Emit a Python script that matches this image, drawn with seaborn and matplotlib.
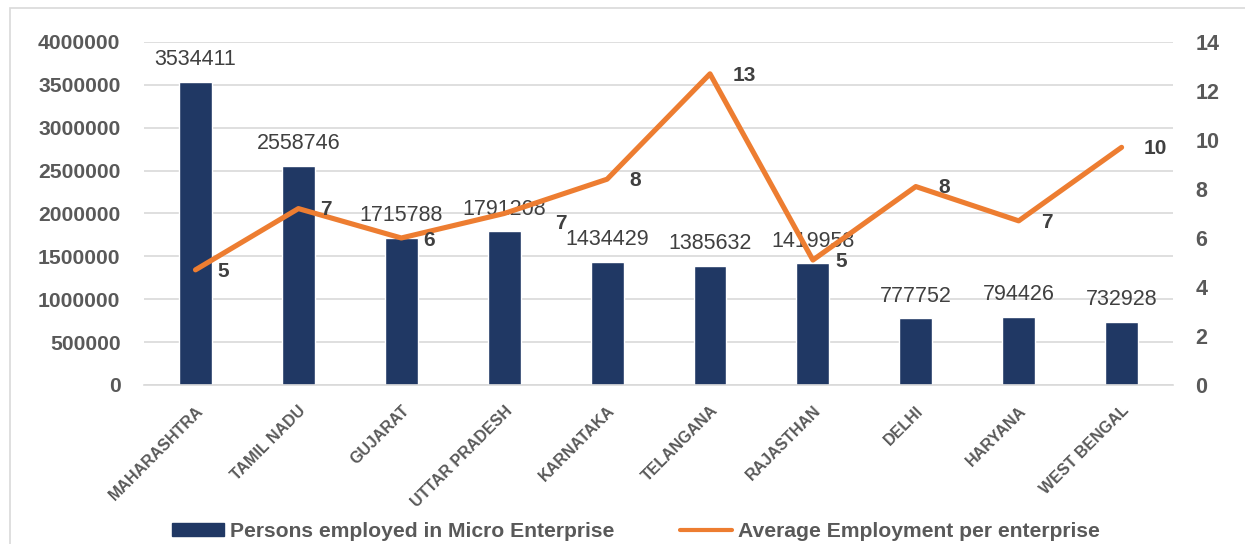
import matplotlib
matplotlib.use("Agg")
import matplotlib.pyplot as plt
import seaborn as sns
import pandas as pd
from matplotlib.patches import Rectangle
from matplotlib.lines import Line2D
from matplotlib.patches import Patch

sns.set_theme(style="white")
plt.rcParams['font.family'] = ['Liberation Sans', 'DejaVu Sans']

states = ["MAHARASHTRA", "TAMIL NADU", "GUJARAT", "UTTAR PRADESH", "KARNATAKA",
          "TELANGANA", "RAJASTHAN", "DELHI", "HARYANA", "WEST BENGAL"]
persons = [3534411, 2558746, 1715788, 1791208, 1434429,
           1385632, 1419958, 777752, 794426, 732928]
avg_emp = [4.7, 7.2, 6.0, 7.0, 8.4, 12.7, 5.1, 8.1, 6.7, 9.7]

df = pd.DataFrame({"state": states, "persons": persons, "avg": avg_emp})

navy = "#203864"
orange = "#ED7D31"
grey = "#595959"

fig = plt.figure(figsize=(12.45, 5.44), dpi=100)
ax = fig.add_axes([0.1157, 0.2923, 0.8265, 0.6305])

sns.barplot(data=df, x="state", y="persons", color=navy, width=0.32,
            saturation=1, ax=ax)
ax.set_ylim(0, 4000000)
ax.set_yticks(range(0, 4000001, 500000))
ax.set_yticklabels([str(v) for v in range(0, 4000001, 500000)],
                   fontsize=15.2, fontweight="bold", color=grey)
ax.yaxis.grid(True, color="#D9D9D9", linewidth=1.2)
ax.set_axisbelow(True)
for s in ["top", "right", "left"]:
    ax.spines[s].set_visible(False)
ax.spines["bottom"].set_color("#D9D9D9")
ax.spines["bottom"].set_linewidth(1.2)
ax.tick_params(axis="y", length=0, pad=17)
ax.tick_params(axis="x", length=0, pad=13)
ax.set_xlabel("")
ax.set_ylabel("")
ax.set_xticks(range(len(states)))
ax.set_xticklabels(states, rotation=45, ha="right", rotation_mode="anchor",
                   fontsize=11.5, fontweight="bold", color=grey)

for i, v in enumerate(persons):
    ax.annotate(str(v), (i, v), xytext=(0, 16), textcoords="offset points",
                ha="center", va="center", fontsize=15.5, color="#404040")

ax2 = ax.twinx()
sns.lineplot(x=list(range(len(states))), y=avg_emp, color=orange,
             linewidth=3.7, ax=ax2, solid_capstyle="round")
ax2.set_ylim(0, 14)
ax2.set_yticks(range(0, 15, 2))
ax2.set_yticklabels([str(v) for v in range(0, 15, 2)],
                    fontsize=15.5, fontweight="bold", color=grey)
ax2.tick_params(axis="y", length=0, pad=16)
for s in ["top", "right", "left", "bottom"]:
    ax2.spines[s].set_visible(False)
ax2.grid(False)
ax2.set_ylabel("")
ax.set_xlim(-0.5, len(states) - 0.5)

label_dx = [16, 16, 16, 37, 16, 16, 16, 16, 16, 16]
label_dy = [-1, -1, -2, -7, -1, -1, -1, -1, -1, -1]
for i, v in enumerate(avg_emp):
    ax2.annotate(str(round(v)), (i, v), xytext=(label_dx[i], label_dy[i]),
                 textcoords="offset points", ha="left", va="center",
                 fontsize=15, fontweight="bold", color="#404040")

handles = [Patch(facecolor=navy, edgecolor=navy),
           Line2D([0], [0], color=orange, linewidth=3)]
labels = ["Persons employed in Micro Enterprise", "Average Employment per enterprise"]
fig.legend(handles, labels, loc="lower center", bbox_to_anchor=(0.511, -0.03),
           ncol=2, frameon=False, handlelength=2.45, handleheight=0.55,
           columnspacing=3.1, handletextpad=0.3,
           prop={"size": 15.2, "weight": "bold"}, labelcolor=grey)

fig.patches.append(Rectangle((10 / 1245, -0.1), 1.2, 1 - 8 / 544 + 0.1,
                             transform=fig.transFigure, fill=False,
                             edgecolor="#D9D9D9", linewidth=1.2))

fig.savefig("out.png", dpi=100)
